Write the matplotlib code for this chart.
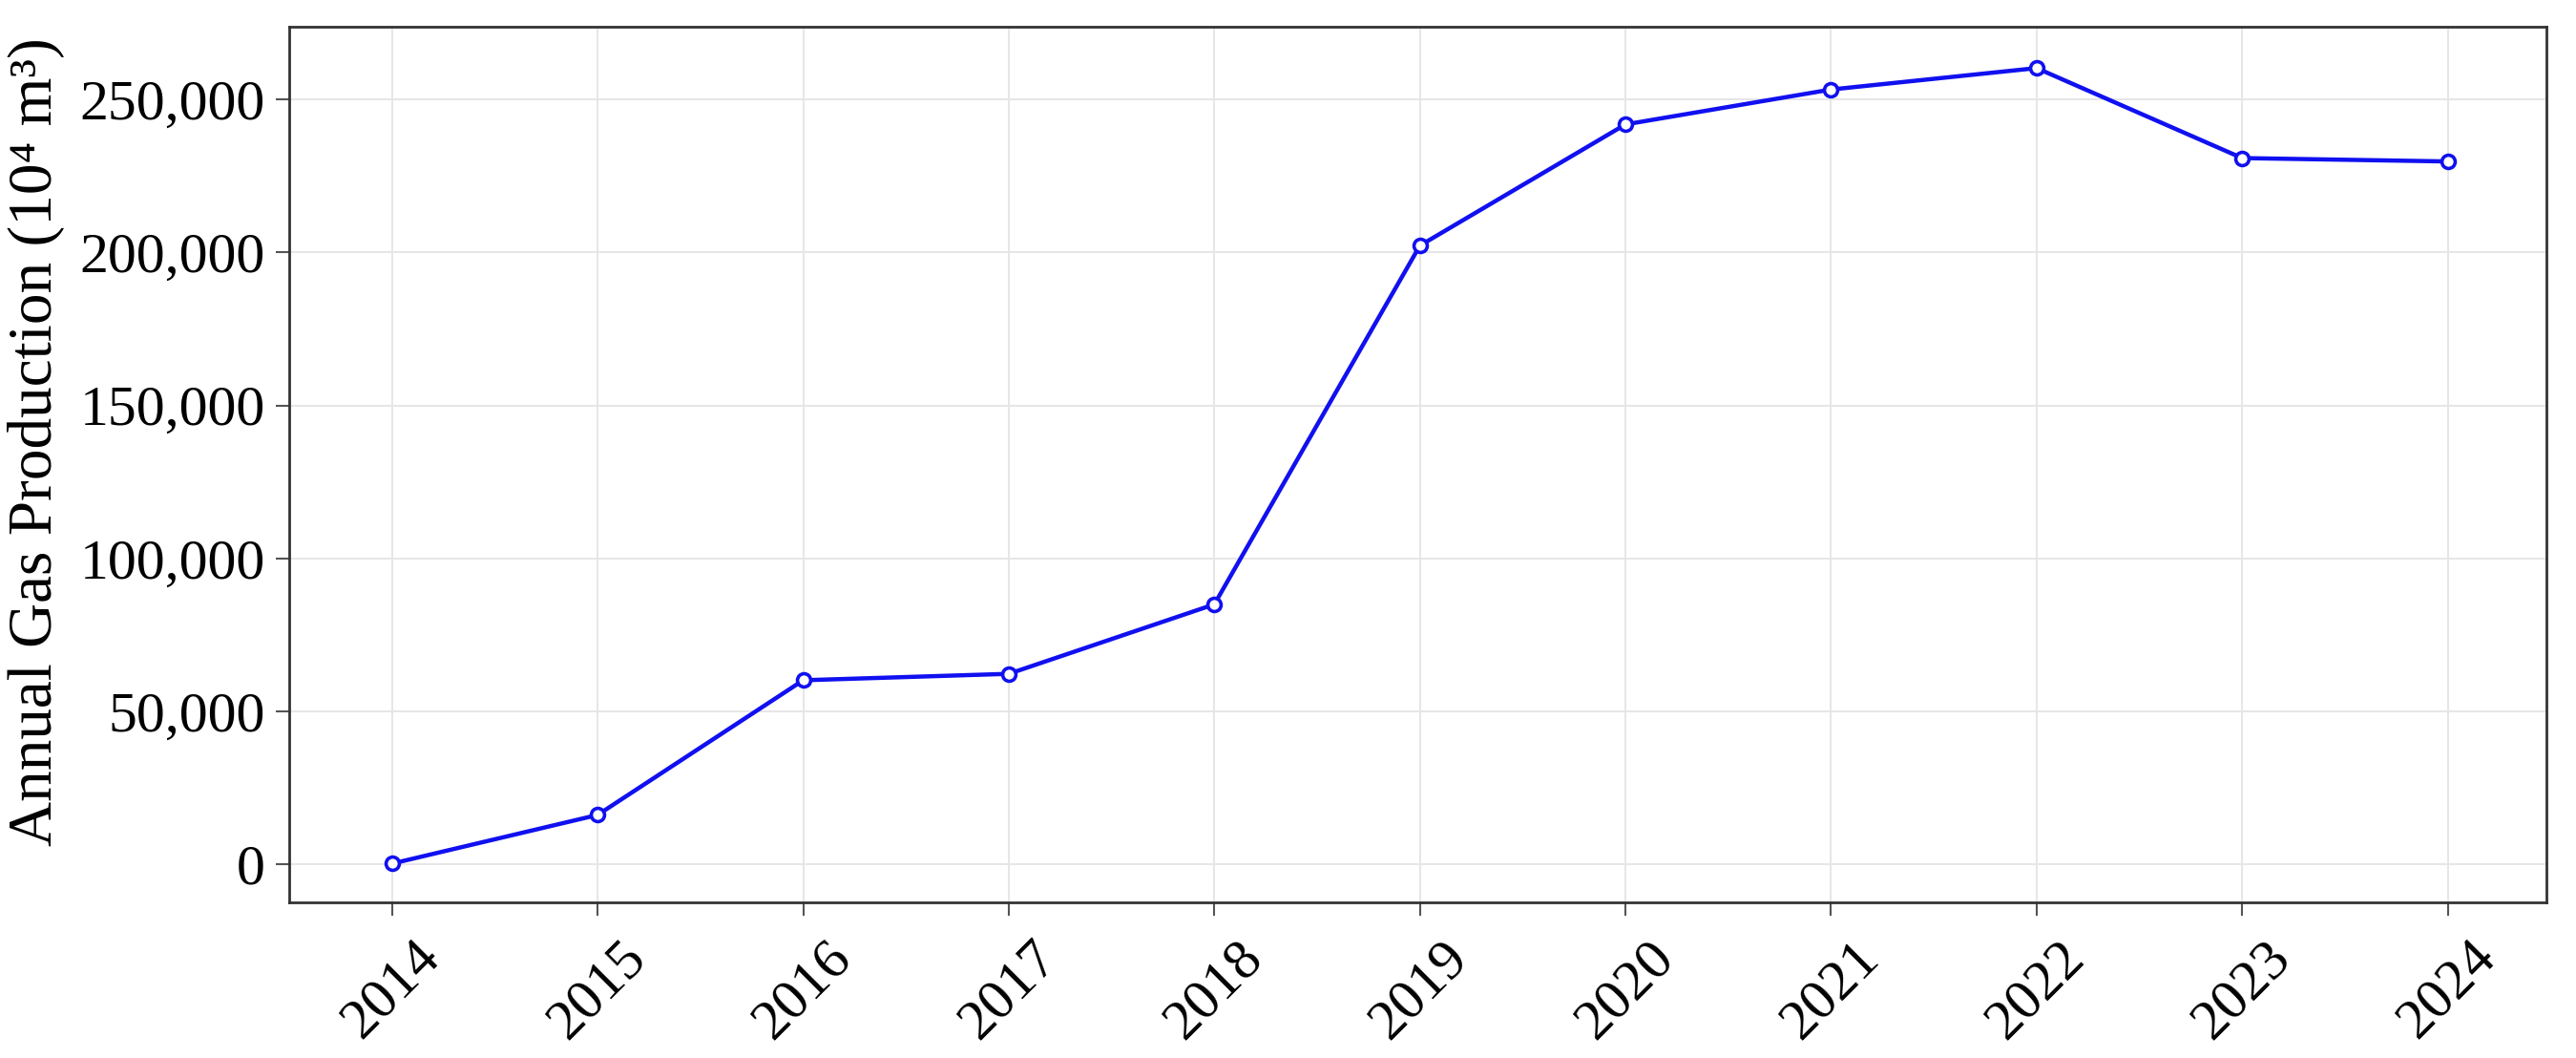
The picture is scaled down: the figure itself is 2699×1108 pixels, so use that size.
import matplotlib
matplotlib.use("Agg")
from matplotlib import pyplot as plt
from matplotlib.ticker import FuncFormatter

years = ['2014', '2015', '2016', '2017', '2018', '2019', '2020', '2021', '2022', '2023', '2024']
gas = [300, 16200, 60200, 62300, 85000, 202200, 241800, 253200, 260200, 230800, 229700]
yticks = [0, 50000, 100000, 150000, 200000, 250000]

plt.rcParams['font.family'] = ['Liberation Serif', 'DejaVu Serif']

fig = plt.figure(figsize=(26.99, 11.08), dpi=100)
ax = fig.add_axes([0.1123, 0.147, 0.8762, 0.8277])

x = list(range(len(years)))
ax.plot(x, gas, color='#1010f0', lw=3.2, marker='o', ms=10, mfc='white',
        mec='#1010f0', mew=2.6, zorder=3)

ax.set_xlim(-0.5, len(years) - 1 + 0.48)
ax.set_ylim(-12400, 273700)
ax.set_xticks(x)
ax.set_xticklabels(years, rotation=45, ha='center')
ax.set_yticks(yticks)
ax.yaxis.set_major_formatter(FuncFormatter(lambda v, p: f'{int(v):,}'))

ax.grid(True, color='#e6e6e6', lw=1.4)
ax.set_axisbelow(True)
for s in ax.spines.values():
    s.set_linewidth(2.0)
    s.set_color('#333333')
ax.tick_params(axis='both', labelsize=43, length=10, width=1.5, color='#555555', pad=8)
ax.tick_params(axis='x', pad=12)

ax.set_ylabel('Annual Gas Production (10\u2074 m\u00b3)', fontsize=47, va='center')
ax.yaxis.set_label_coords(-0.112, 0.526)

fig.savefig('out.png', dpi=100)
